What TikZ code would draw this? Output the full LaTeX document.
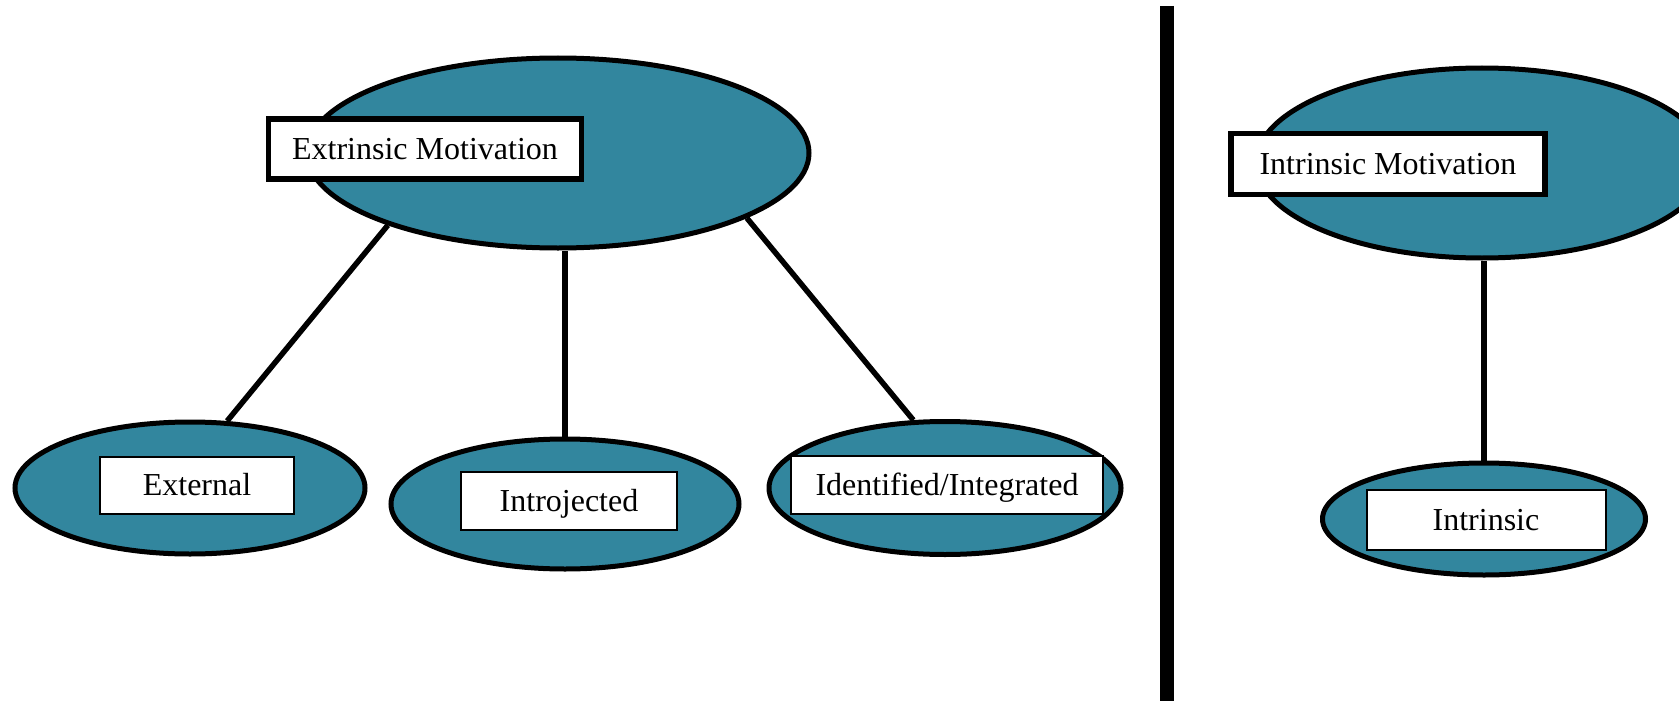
\documentclass[tikz,border=0pt]{standalone}
\usepackage{fontspec}
\setmainfont{Liberation Serif}
\usetikzlibrary{shapes.geometric}
\definecolor{tealfill}{RGB}{50,134,158}
\tikzset{
  oval/.style={ellipse, draw=black, line width=5pt, fill=tealfill, inner sep=0pt},
  bigtag/.style={rectangle, draw=black, line width=5.5pt, fill=white, inner sep=0pt,
    text height=21pt, text depth=0pt, font=\fontsize{32}{38}\selectfont},
  smalltag/.style={rectangle, draw=black, line width=2pt, fill=white, inner sep=0pt,
    text height=21pt, text depth=0pt, font=\fontsize{32}{38}\selectfont},
  link/.style={draw=black, line width=5.5pt},
}
\begin{document}
\begin{tikzpicture}[x=1pt,y=-1pt]
\useasboundingbox (0,0) rectangle (1679,701);
% left tree
\node[oval, minimum width=502pt, minimum height=190pt] (ext) at (558,153) {};
\node[oval, minimum width=350pt, minimum height=132pt] (exl) at (190,488) {};
\node[oval, minimum width=348pt, minimum height=130pt] (intro) at (565,504) {};
\node[oval, minimum width=352pt, minimum height=133pt] (ident) at (945,488) {};
\draw[link] (ext.203) -- (exl.61);
\draw[link] (intro.north) -- (intro.north |- ext.south);
\draw[link] (ext.341) -- (ident.115);
\node[bigtag, minimum width=313pt, minimum height=60pt] (extlab) at (425,149) {Extrinsic Motivation};
\node[smalltag, minimum width=194pt, minimum height=57pt] (exllab) at (197,485) {External};
\node[smalltag, minimum width=216pt, minimum height=58pt] (introlab) at (569,501) {Introjected};
\node[smalltag, minimum width=312pt, minimum height=58pt] (identlab) at (947,485) {Identified/Integrated};
% divider
\coordinate (divtop) at (1167,6);
\coordinate (divbot) at (1167,701);
\draw[line width=14pt] (divtop) -- (divbot);
% right tree
\node[oval, minimum width=452pt, minimum height=190pt] (intm) at (1482,163) {};
\node[oval, minimum width=323pt, minimum height=112pt] (intr) at (1484,519) {};
\draw[link] (intr.north) -- (intr.north |- intm.south);
\node[bigtag, minimum width=314pt, minimum height=61pt] (intmlab) at (1388,164) {Intrinsic Motivation};
\node[smalltag, minimum width=239pt, minimum height=60pt] (intrlab) at (1486,520) {Intrinsic};
\end{tikzpicture}
\end{document}
